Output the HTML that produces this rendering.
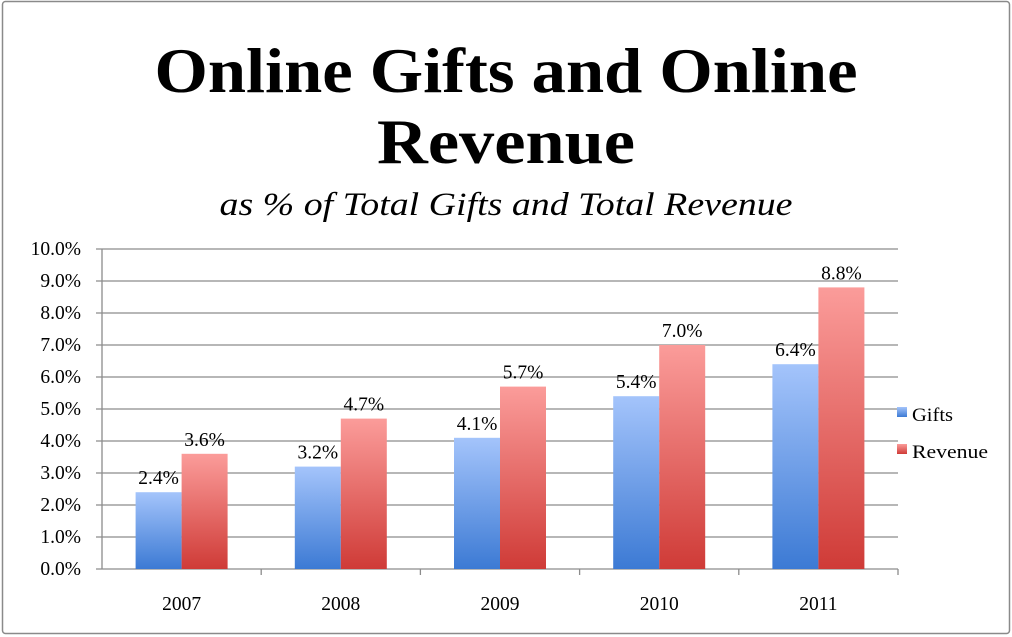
<!DOCTYPE html>
<html><head><meta charset="utf-8"><style>
body{margin:0;background:#fff;}
svg{display:block;font-family:"Liberation Serif",serif;}
</style></head><body>
<svg width="1012" height="637" viewBox="0 0 1012 637">
<defs>
<linearGradient id="gb" x1="0" y1="0" x2="0" y2="1"><stop offset="0" stop-color="#a4c4fb"/><stop offset="1" stop-color="#3c7ad4"/></linearGradient>
<linearGradient id="gr" x1="0" y1="0" x2="0" y2="1"><stop offset="0" stop-color="#fb9c9a"/><stop offset="1" stop-color="#cf3b37"/></linearGradient>
</defs>
<rect x="2.5" y="1.5" width="1007" height="632" fill="#fff" stroke="#8a8a8a" stroke-width="1.5" rx="3"/>
<text x="506" y="92" text-anchor="middle" font-size="64" font-weight="bold" textLength="703" lengthAdjust="spacingAndGlyphs">Online Gifts and Online</text>
<text x="506" y="163" text-anchor="middle" font-size="64" font-weight="bold" textLength="258" lengthAdjust="spacingAndGlyphs">Revenue</text>
<text x="506" y="215" text-anchor="middle" font-size="33" font-style="italic" textLength="573" lengthAdjust="spacingAndGlyphs">as % of Total Gifts and Total Revenue</text>
<g id="grid"></g>
<g id="bars"></g>
<g>
<rect x="897" y="407" width="10" height="10" fill="url(#gb)"/>
<text x="912" y="421" font-size="19" textLength="41" lengthAdjust="spacingAndGlyphs">Gifts</text>
<rect x="897" y="444" width="10" height="10" fill="url(#gr)"/>
<text x="912" y="458" font-size="19" textLength="76" lengthAdjust="spacingAndGlyphs">Revenue</text>
</g>
</svg>
<script>
const categories=["2007","2008","2009","2010","2011"];
const gifts=[2.4,3.2,4.1,5.4,6.4];
const revenue=[3.6,4.7,5.7,7.0,8.8];
const yTicks=[0,1,2,3,4,5,6,7,8,9,10];
const NS="http://www.w3.org/2000/svg";
const x0=102,x1=898,y0=569,y1=249,yMax=10;
const bw=(x1-x0)/categories.length;
function y(v){return y0-(v/yMax)*(y0-y1);}
function mk(tag,attrs,parent){const e=document.createElementNS(NS,tag);for(const k in attrs)e.setAttribute(k,attrs[k]);parent.appendChild(e);return e;}
const grid=document.getElementById('grid');
yTicks.forEach(t=>{
 const l=mk('line',{x1:x0-6,x2:x1,y1:y(t),y2:y(t),stroke:'#8c8c8c','stroke-width':1.3},grid);
 
 
 const tx=mk('text',{x:81,y:y(t)+6,'text-anchor':'end','font-size':19.5},grid);
 tx.textContent=t.toFixed(1)+'%';
 
 
});
const ax=mk('line',{x1:x0,x2:x0,y1:y1,y2:y0,stroke:'#8c8c8c','stroke-width':1.3},grid);


const bars=document.getElementById('bars');
categories.forEach((c,i)=>{
 const cx=x0+bw*(i+0.5);
 const tk=mk('line',{x1:x0+bw*(i+1),x2:x0+bw*(i+1),y1:y0,y2:y0+6,stroke:'#8c8c8c','stroke-width':1.3},grid);
 
 
 const w=46;
 [[gifts[i],'url(#gb)',cx-w,'bar-gifts'],[revenue[i],'url(#gr)',cx,'bar-revenue']].forEach(([v,f,bx,n])=>{
  const r=mk('rect',{x:bx,y:y(v),width:w,height:y0-y(v),fill:f},bars);
  
  
  const t=mk('text',{x:bx+w/2,y:y(v)-8,'text-anchor':'middle','font-size':19.5},bars);
  t.textContent=v.toFixed(1)+'%';
  
  
 });
 const xl=mk('text',{x:cx,y:610,'text-anchor':'middle','font-size':19.5},bars);
 xl.textContent=c;
 
 
});
</script>
</body></html>
